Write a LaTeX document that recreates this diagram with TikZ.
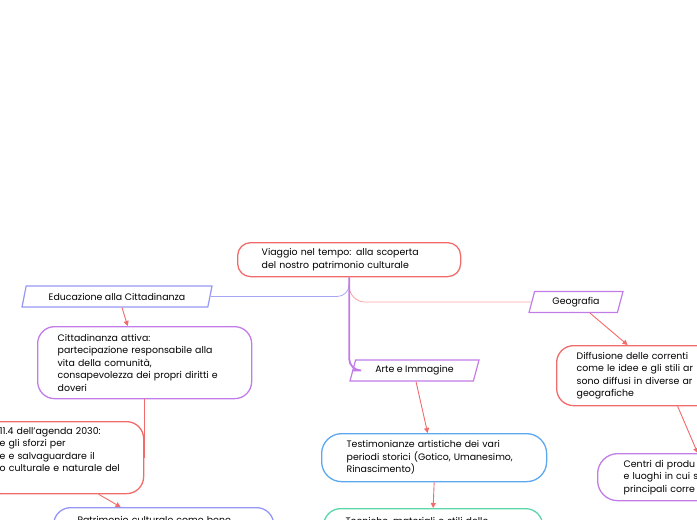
\documentclass[tikz,border=0pt]{standalone}
\usepackage{fontspec}
\setmainfont{Poppins}
\usetikzlibrary{shapes.geometric,arrows.meta}
\definecolor{mmred}{HTML}{F26B6B}
\definecolor{mmpink}{HTML}{F8A3A3}
\definecolor{mmpurple}{HTML}{C27CE8}
\definecolor{mmviolet}{HTML}{9696F5}
\definecolor{mmblue}{HTML}{5BA8F0}
\definecolor{mmgreen}{HTML}{5CD6A9}
\begin{document}
\begin{tikzpicture}[x=1pt, y=-1pt, font=\fontsize{9.4}{12.5}\selectfont,
    card/.style={draw=#1, line width=1.3pt, rounded corners=17pt, align=left, anchor=north west, inner ysep=0pt},
    topic/.style={draw=#1, line width=1.2pt, shape=trapezium, trapezium left angle=60, trapezium right angle=120,
        trapezium stretches body, minimum height=21pt, inner sep=0pt},
    link/.style={mmred, line width=0.9pt, -{Triangle[length=5pt, width=5pt]}}]
    \useasboundingbox (0,0) rectangle (697,520);
    \clip (0,0) rectangle (697,520);
    % central topic
    \node[card=mmred, rounded corners=13pt, text width=175pt, inner xsep=24pt, minimum height=34pt]
        (root) at (237,242) {Viaggio nel tempo: alla scoperta\\del nostro patrimonio culturale};
    % subject labels
    \node[topic=mmviolet, minimum width=190pt] (edu) at (117,296.5) {Educazione alla Cittadinanza};
    \node[topic=mmpurple, minimum width=94pt] (geo) at (576,302) {Geografia};
    \node[topic=mmpurple, minimum width=129pt] (arte) at (414.5,370.5) {Arte e Immagine};
    % branches out of the central topic
    \draw[mmviolet!85, line width=0.8pt, rounded corners=12pt] (root.south) |- (edu.west -| edu.east);
    \draw[mmpink, line width=0.8pt, rounded corners=16pt] (root.south) |- (geo.west);
    \draw[mmpurple, line width=1.8pt, rounded corners=12pt] (root.south) |- (arte.west);
    % left column: Cittadinanza
    \node[card=mmpurple, text width=174pt, inner xsep=20pt, minimum height=72pt] (cit) at (37,326)
        {Cittadinanza attiva:\\partecipazione responsabile alla\\vita della comunità,\\consapevolezza dei propri diritti e\\doveri};
    \node[card=mmred, text width=128pt, inner xsep=16pt, minimum height=72pt] (obj) at (-17,421)
        {11.4 dell'agenda 2030:\\e gli sforzi per\\e e salvaguardare il\\o culturale e naturale del\\\strut};
    \node[card=mmviolet, text width=172pt, inner xsep=24pt, inner ysep=9pt, text depth=30pt] (patr) at (53,507)
        {Patrimonio culturale come bene};
    % middle column: Arte e Immagine
    \node[card=mmblue, rounded corners=20pt, text width=175pt, inner xsep=25pt, minimum height=48pt] (testi) at (321,433)
        {Testimonianze artistiche dei vari\\periodi storici (Gotico, Umanesimo,\\Rinascimento)};
    \node[card=mmgreen, text width=175pt, inner xsep=22pt, inner ysep=9pt, text depth=30pt] (tec) at (323,508)
        {Tecniche, materiali e stili delle};
    % right column: Geografia
    \node[card=mmred, text width=160pt, inner xsep=20pt, minimum height=60pt] (diff) at (556,345)
        {Diffusione delle correnti\\come le idee e gli stili ar\\sono diffusi in diverse ar\\geografiche};
    \node[card=mmpurple, rounded corners=20pt, text width=160pt, inner xsep=26pt, minimum height=47pt] (centri) at (597,453)
        {Centri di produ\\e luoghi in cui s\\principali corre};
    % links
    \draw[link] ([xshift=5pt]edu.south) -- ([xshift=-17pt]cit.north);
    \draw[mmred, line width=0.9pt] (cit.south) -- (cit.south |- obj.east);
    \draw[link] ([xshift=35pt]obj.south) -- ([xshift=-43pt]patr.north);
    \draw[link] ([xshift=1.5pt]arte.south) -- ([xshift=-6.5pt]testi.north);
    \draw[link] (testi.south) -- (tec.north);
    \draw[link] ([xshift=14pt]geo.south) -- ([xshift=-29pt]diff.north);
    \draw[link] ([xshift=21pt]diff.south) -- ([xshift=-6pt]centri.north);
\end{tikzpicture}
\end{document}
